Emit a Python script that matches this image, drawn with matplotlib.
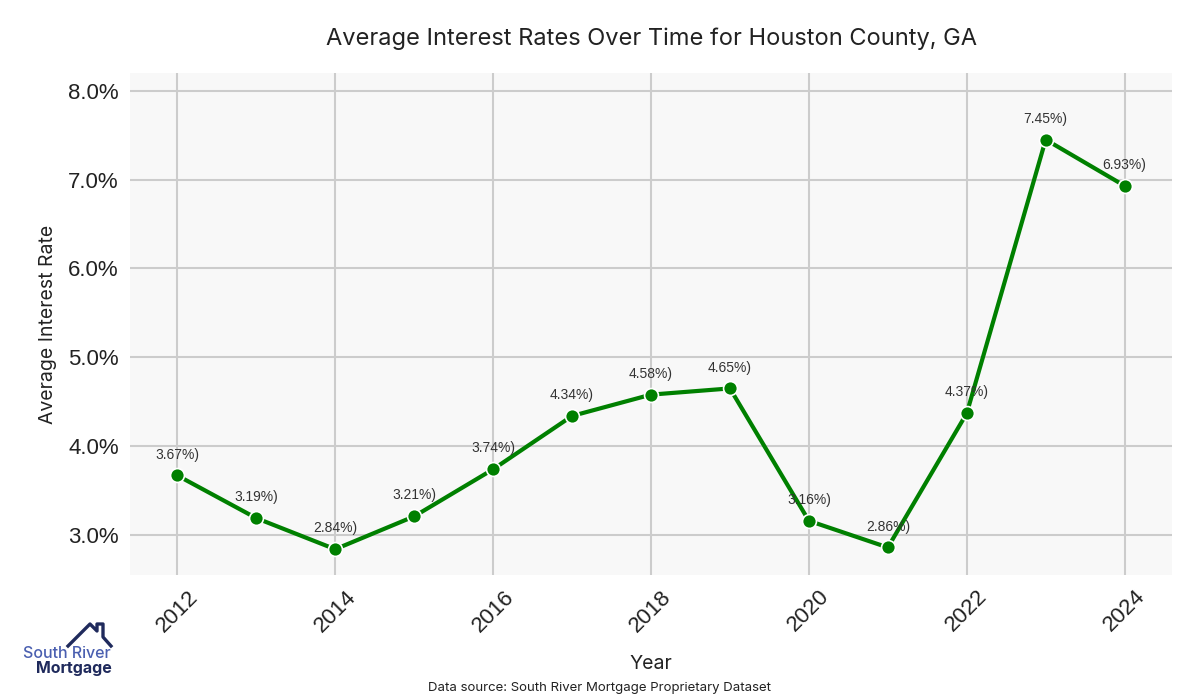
import matplotlib
matplotlib.use("Agg")
import matplotlib.pyplot as plt
from matplotlib.ticker import FuncFormatter

years = [2012, 2013, 2014, 2015, 2016, 2017, 2018, 2019, 2020, 2021, 2022, 2023, 2024]
rates = [3.67, 3.19, 2.84, 3.21, 3.74, 4.34, 4.58, 4.65, 3.16, 2.86, 4.37, 7.45, 6.93]
x_ticks = [2012, 2014, 2016, 2018, 2020, 2022, 2024]
y_ticks = [3.0, 4.0, 5.0, 6.0, 7.0, 8.0]

title_font = ["Inter", "DejaVu Sans"]
tick_font = ["Liberation Sans", "DejaVu Sans"]

fig = plt.figure(figsize=(12, 7), dpi=100)
ax = fig.add_axes([130 / 1200, 1 - 575 / 700, 1042 / 1200, 502 / 700])
ax.set_facecolor("#f8f8f8")

ax.plot(years, rates, color="#008000", linewidth=3, marker="o", markersize=10,
        markerfacecolor="#008000", markeredgecolor="white", markeredgewidth=1.2, zorder=3)

for x, y in zip(years, rates):
    ax.annotate(f"{y:.2f}%)", (x, y), xytext=(0, 10), textcoords="offset points",
                ha="center", va="bottom", fontsize=10, color="#333333",
                family=tick_font, zorder=4)

ax.set_xlim(2011.4, 2024.6)
ax.set_ylim(2.55, 8.2)
ax.set_xticks(x_ticks)
ax.set_yticks(y_ticks)
ax.yaxis.set_major_formatter(FuncFormatter(lambda v, p: f"{v:.1f}%"))
ax.grid(True, color="#cccccc", linewidth=1.5)
ax.set_axisbelow(True)
for s in ax.spines.values():
    s.set_visible(False)
ax.tick_params(length=0, labelsize=16, labelcolor="#222222", pad=8)
for lbl in ax.get_xticklabels():
    lbl.set_rotation(45)
    lbl.set_family(tick_font)
for lbl in ax.get_yticklabels():
    lbl.set_family(tick_font)

ax.set_title("Average Interest Rates Over Time for Houston County, GA", fontsize=17,
             family=title_font, color="#222222", pad=20)
ax.set_ylabel("Average Interest Rate", fontsize=14, family=title_font, color="#222222", labelpad=8)
ax.set_xlabel("Year", fontsize=14, family=title_font, color="#222222", labelpad=14)

fig.text(0.5, 0.008, "Data source: South River Mortgage Proprietary Dataset", ha="center",
         va="bottom", fontsize=9.5, family=title_font, color="#222222")

# logo
fig.text(67 / 1200, 1 - 653 / 700, "South River", ha="center", va="center", fontsize=11.5,
         family=title_font, color="#4a5fb0", weight="medium")
fig.text(74 / 1200, 1 - 669 / 700, "Mortgage", ha="center", va="center", fontsize=11.5,
         family=title_font, color="#1f2a5c", weight="bold")
hx = [68, 90, 97, 97, 103, 103, 111]
hy = [646, 624, 631, 624, 624, 637, 646]
fig.add_artist(plt.Line2D([v / 1200 for v in hx], [1 - v / 700 for v in hy],
                          color="#1f2a5c", linewidth=2.4, transform=fig.transFigure))

fig.savefig("out.png", dpi=100)
